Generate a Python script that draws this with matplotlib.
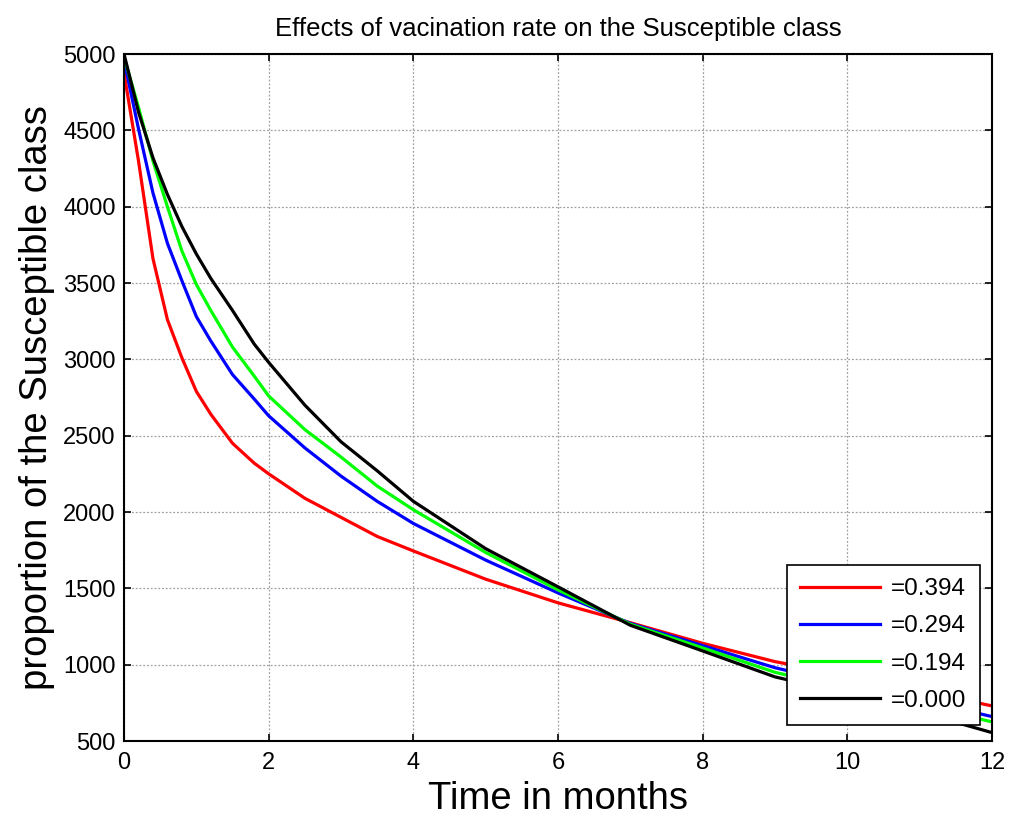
import matplotlib
matplotlib.use('Agg')
import matplotlib.pyplot as plt

# Time points (months)
time = [0, 0.2, 0.4, 0.6, 0.8, 1.0, 1.2, 1.5, 1.8, 2.0, 2.5, 3.0,
        3.5, 4.0, 5.0, 6.0, 7.0, 8.0, 9.0, 10.0, 11.0, 12.0]

# Susceptible class for each vaccination rate
s_394 = [4876, 4300, 3660, 3260, 3010, 2790, 2640, 2450, 2320, 2250, 2090, 1965,
         1840, 1745, 1560, 1405, 1275, 1140, 1020, 930, 830, 730]
s_294 = [4960, 4510, 4090, 3760, 3515, 3280, 3120, 2900, 2740, 2630, 2420, 2235,
         2070, 1925, 1685, 1470, 1270, 1125, 980, 870, 770, 660]
s_194 = [4980, 4650, 4300, 4000, 3710, 3490, 3320, 3080, 2890, 2760, 2540, 2360,
         2170, 2015, 1735, 1490, 1265, 1110, 950, 840, 740, 625]
s_000 = [5000, 4620, 4320, 4080, 3870, 3690, 3530, 3320, 3100, 2980, 2700, 2460,
         2270, 2070, 1760, 1510, 1258, 1090, 920, 810, 690, 555]

labels = ['=0.394', '=0.294', '=0.194', '=0.000']
colors = ['#ff0000', '#0000ff', '#00ff00', '#000000']

plt.rcParams['font.family'] = ['Liberation Sans', 'DejaVu Sans']

fig = plt.figure(figsize=(10.1, 8.17), dpi=100)
ax = fig.add_axes([0.1228, 0.0930, 0.8594, 0.8409])

for series, lab, col in zip([s_394, s_294, s_194, s_000], labels, colors):
    ax.plot(time, series, color=col, linewidth=2.3, label=lab)

ax.set_xlim(0, 12)
ax.set_ylim(500, 5000)
ax.set_xticks(range(0, 13, 2))
ax.set_yticks(range(500, 5001, 500))

ax.grid(True, color='#a0a0a0', linestyle=(0, (1.5, 1.5)), linewidth=0.9)
ax.tick_params(axis='both', which='both', direction='in', top=True, right=True,
               length=5, width=1.2, labelsize=17)
ax.tick_params(axis='x', pad=8)
ax.tick_params(axis='y', pad=6)
for sp in ax.spines.values():
    sp.set_linewidth(1.5)

ax.set_title('Effects of vacination rate on the Susceptible class', fontsize=18.5, pad=13)
ax.set_xlabel('Time in months', fontsize=27.5, labelpad=5)
ax.set_ylabel('proportion of the Susceptible class', fontsize=27.5, labelpad=6)

leg = ax.legend(loc='lower right', bbox_to_anchor=(0.9862, 0.0233), borderaxespad=0,
                fontsize=17.5, handlelength=3.3, labelspacing=0.62, fancybox=False,
                framealpha=1, edgecolor='black', handletextpad=0.45, borderpad=0.55)
leg.get_frame().set_linewidth(1.2)

fig.savefig('out.png', dpi=100)
